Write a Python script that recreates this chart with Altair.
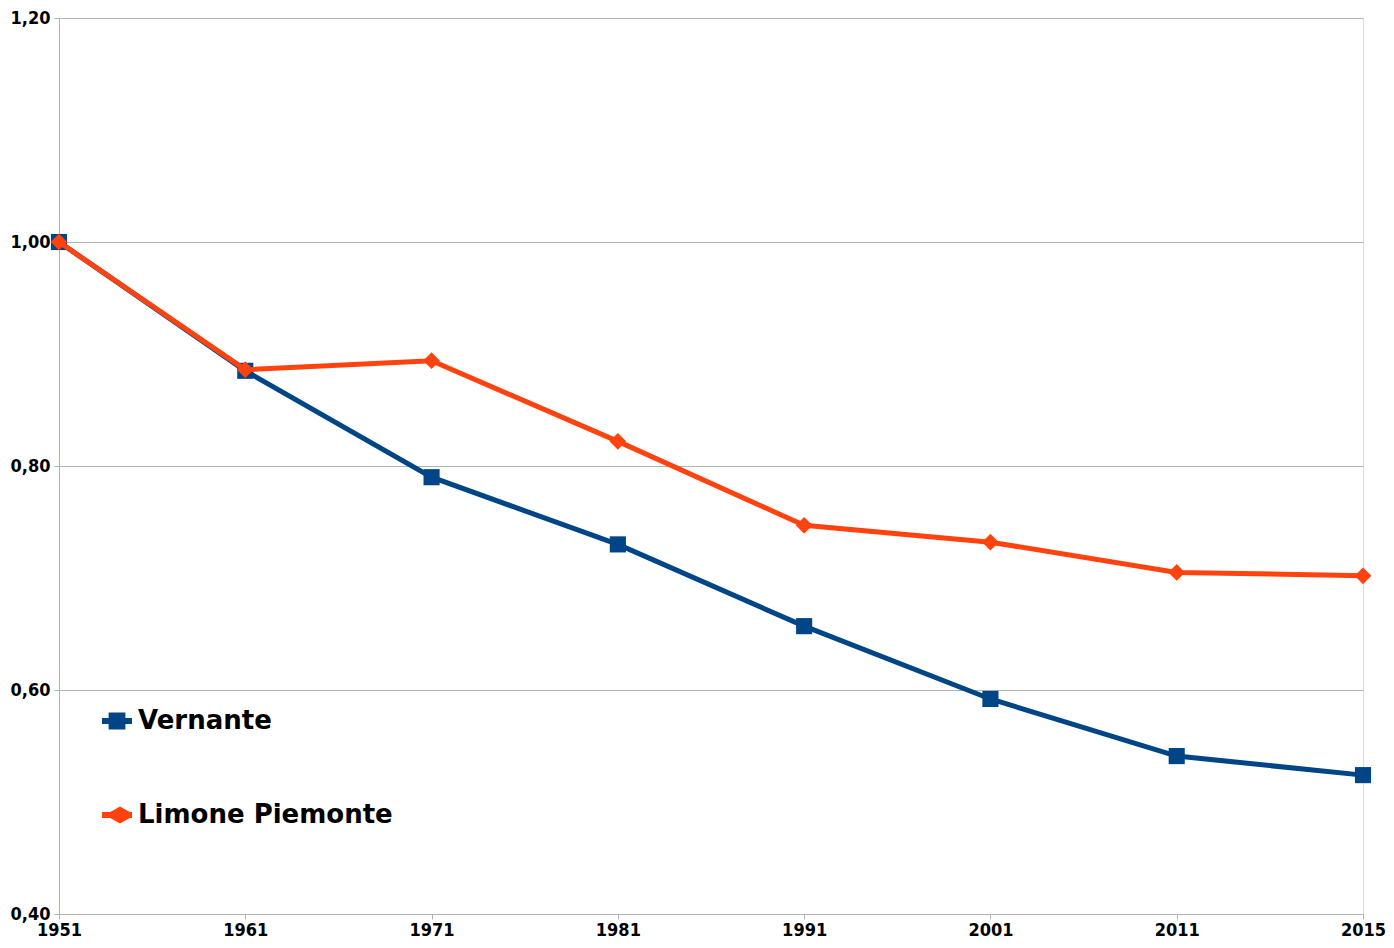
import altair as alt
import pandas as pd

years = ["1951", "1961", "1971", "1981", "1991", "2001", "2011", "2015"]
vernante = [1.000, 0.885, 0.790, 0.730, 0.657, 0.592, 0.541, 0.524]
limone = [1.000, 0.886, 0.894, 0.822, 0.747, 0.732, 0.705, 0.702]
series = ["Vernante", "Limone Piemonte"]
colors = ["#004586", "#ff420e"]
y_ticks = [0.4, 0.6, 0.8, 1.0, 1.2]

df = pd.DataFrame({
    "year": years * 2,
    "value": vernante + limone,
    "series": [series[0]] * len(years) + [series[1]] * len(years),
})

AXFONT = "DejaVu Sans Condensed"
LGFONT = "DejaVu Sans"

x_enc = alt.X(
    "year:O", sort=years,
    scale=alt.Scale(type="point", padding=0),
    axis=alt.Axis(title=None, labelAngle=0, labelFont=AXFONT, labelFontSize=18,
                  labelFontWeight="bold", labelColor="#000000", labelPadding=2,
                  tickColor="#b3b3b3", tickSize=5, domainColor="#b3b3b3",
                  grid=False, labelFlush=False),
)
y_enc = alt.Y(
    "value:Q",
    scale=alt.Scale(domain=[0.4, 1.2], nice=False, zero=False),
    axis=alt.Axis(title=None, values=y_ticks, labelFont=AXFONT, labelFontSize=18,
                  labelFontWeight="bold", labelColor="#000000", labelPadding=4,
                  labelExpr="replace(format(datum.value, '.2f'), '.', ',')",
                  tickColor="#b3b3b3", tickSize=5, domainColor="#b3b3b3",
                  grid=True, gridColor="#b3b3b3", gridWidth=1),
)

base = alt.Chart(df).encode(x=x_enc, y=y_enc)

sq_path = "M-1,-0.2H-0.56V-0.56H0.56V-0.2H1V0.2H0.56V0.56H-0.56V0.2H-1Z"
di_path = "M-1,-0.2H-0.45L0.2,-0.56L0.85,-0.2H1V0.2H0.85L0.2,0.56L-0.45,0.2H-1Z"

layers = []
for name, col, shp, sz in [(series[0], colors[0], "square", 260),
                           (series[1], colors[1], "diamond", 280)]:
    sub = base.transform_filter(alt.datum.series == name)
    layers.append(sub.mark_line(strokeWidth=5, color=col))
    layers.append(sub.mark_point(shape=shp, filled=True, size=sz, opacity=1, color=col))

legend_layer = base.transform_filter("false").mark_point(filled=True, opacity=1).encode(
    color=alt.Color("series:N", sort=series,
                    scale=alt.Scale(domain=series, range=colors),
                    legend=alt.Legend(title=None, orient="none", legendX=43, legendY=688,
                                      direction="vertical", symbolSize=900,
                                      symbolOpacity=1, symbolStrokeWidth=0,
                                      labelFont=LGFONT, labelFontSize=26,
                                      labelFontWeight="bold", labelColor="#000000",
                                      labelOffset=6, rowPadding=66, labelLimit=400)),
    shape=alt.Shape("series:N", sort=series,
                    scale=alt.Scale(domain=series, range=[sq_path, di_path]),
                    legend=alt.Legend(title=None)),
)

chart = alt.layer(*layers, legend_layer).properties(
    width=1304, height=896,
    padding={"left": 2, "top": 1, "right": 0, "bottom": 0},
).configure_view(stroke="#b3b3b3", strokeWidth=1).configure(background="#ffffff")

chart.save("out.html", embed_options={"renderer": "svg", "actions": False})
